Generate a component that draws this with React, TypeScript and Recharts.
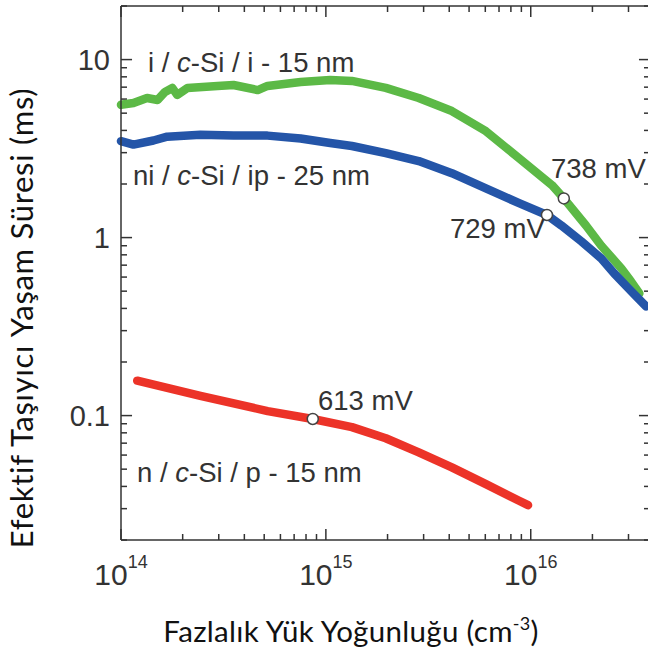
import React from "react";
import {
  ComposedChart,
  Line,
  Scatter,
  XAxis,
  YAxis,
  ReferenceLine,
} from "recharts";

// carrier density (cm-3) / effective lifetime (ms)
const green = [
  { n: 1.0e14, tau: 5.57 },
  { n: 1.15e14, tau: 5.7 },
  { n: 1.34e14, tau: 6.08 },
  { n: 1.51e14, tau: 5.93 },
  { n: 1.64e14, tau: 6.58 },
  { n: 1.78e14, tau: 6.93 },
  { n: 1.88e14, tau: 6.33 },
  { n: 2.11e14, tau: 6.93 },
  { n: 2.96e14, tau: 7.11 },
  { n: 3.54e14, tau: 7.2 },
  { n: 4.65e14, tau: 6.74 },
  { n: 5.19e14, tau: 7.11 },
  { n: 7.53e14, tau: 7.49 },
  { n: 1.05e15, tau: 7.69 },
  { n: 1.34e15, tau: 7.59 },
  { n: 1.96e15, tau: 6.93 },
  { n: 2.84e15, tau: 6.08 },
  { n: 4.12e15, tau: 5.14 },
  { n: 6.04e15, tau: 3.96 },
  { n: 8.77e15, tau: 2.79 },
  { n: 1.27e16, tau: 1.97 },
  { n: 1.45e16, tau: 1.66 },
  { n: 1.86e16, tau: 1.17 },
  { n: 2.21e16, tau: 0.9 },
  { n: 2.77e16, tau: 0.67 },
  { n: 3.09e16, tau: 0.566 },
  { n: 3.39e16, tau: 0.485 },
];

const blue = [
  { n: 1.0e14, tau: 3.48 },
  { n: 1.15e14, tau: 3.33 },
  { n: 1.44e14, tau: 3.51 },
  { n: 1.68e14, tau: 3.69 },
  { n: 2.44e14, tau: 3.78 },
  { n: 3.54e14, tau: 3.74 },
  { n: 5.19e14, tau: 3.74 },
  { n: 7.53e14, tau: 3.6 },
  { n: 1.05e15, tau: 3.4 },
  { n: 1.34e15, tau: 3.27 },
  { n: 1.96e15, tau: 2.98 },
  { n: 2.84e15, tau: 2.69 },
  { n: 4.12e15, tau: 2.3 },
  { n: 6.04e15, tau: 1.89 },
  { n: 8.77e15, tau: 1.56 },
  { n: 1.2e16, tau: 1.34 },
  { n: 1.41e16, tau: 1.17 },
  { n: 1.77e16, tau: 0.95 },
  { n: 2.21e16, tau: 0.764 },
  { n: 2.55e16, tau: 0.63 },
  { n: 2.99e16, tau: 0.52 },
  { n: 3.35e16, tau: 0.455 },
  { n: 3.66e16, tau: 0.41 },
];

const red = [
  { n: 1.2e14, tau: 0.157 },
  { n: 2.44e14, tau: 0.129 },
  { n: 5.2e14, tau: 0.106 },
  { n: 8.63e14, tau: 0.0957 },
  { n: 1.34e15, tau: 0.0861 },
  { n: 1.96e15, tau: 0.0746 },
  { n: 2.84e15, tau: 0.0622 },
  { n: 4.12e15, tau: 0.0512 },
  { n: 6.04e15, tau: 0.0412 },
  { n: 8.77e15, tau: 0.0332 },
  { n: 9.7e15, tau: 0.0314 },
];

// open circles (implied Voc)
const markers = [
  { n: 1.45e16, tau: 1.66 },
  { n: 1.2e16, tau: 1.34 },
  { n: 8.63e14, tau: 0.0957 },
];

const xTicks = [
  1e14, 2e14, 3e14, 4e14, 5e14, 6e14, 7e14, 8e14, 9e14,
  1e15, 2e15, 3e15, 4e15, 5e15, 6e15, 7e15, 8e15, 9e15,
  1e16, 2e16, 3e16,
];
const xMajor = [1e14, 1e15, 1e16];
const xExp = ["14", "15", "16"];

const yTicks = [
  0.02, 0.03, 0.04, 0.05, 0.06, 0.07, 0.08, 0.09,
  0.1, 0.2, 0.3, 0.4, 0.5, 0.6, 0.7, 0.8, 0.9,
  1, 2, 3, 4, 5, 6, 7, 8, 9,
  10, 20,
];
const yMajor = [0.1, 1, 10];
const yLabels = ["0.1", "1", "10"];

const X_DOMAIN = [1e14, 3.82e16];
const Y_DOMAIN = [0.02, 20];

// inward tick lengths as log-scale factors (~11px major, ~6px minor)
const X_MAJOR_F = 1.132;
const X_MINOR_F = 1.07;
const Y_MAJOR_F = 1.153;
const Y_MINOR_F = 1.081;

const AXIS = "#333";
const TXT = "#333";
const tickFont = "'Liberation Sans', Arial, sans-serif";
const titleFont = "Lato, 'Open Sans', sans-serif";

const BottomTick = (props: any) => {
  const { x, y, payload } = props;
  const i = xMajor.indexOf(payload.value);
  return (
    <g>
      {i >= 0 && (
        <text x={x} y={y + 45} textAnchor="middle" fill={TXT} fontFamily={tickFont} fontSize={30}>
          10
          <tspan dy={-17} fontSize={18}>{xExp[i]}</tspan>
        </text>
      )}
    </g>
  );
};

const LeftTick = (props: any) => {
  const { x, y, payload } = props;
  const i = yMajor.indexOf(payload.value);
  return (
    <g>
      {i >= 0 && (
        <text x={x - 11} y={y + 10} textAnchor="end" fill={TXT} fontFamily={tickFont} fontSize={29}>
          {yLabels[i]}
        </text>
      )}
    </g>
  );
};

const OpenCircle = ({ cx, cy }: any) => (
  <circle cx={cx} cy={cy} r={5.5} fill="#fff" stroke="#444" strokeWidth={1.5} />
);

const annStyle = { fontFamily: tickFont, fontSize: 27.5, fill: TXT };

export default function App() {
  return (
    <div style={{ position: "absolute", left: 0, top: 0, width: 648, height: 653, overflow: "hidden", background: "#fff" }}>
      <ComposedChart width={650} height={653} margin={{ top: 5, right: 0, bottom: 112, left: 120 }}>
        <XAxis
          dataKey="n"
          type="number"
          scale="log"
          domain={X_DOMAIN}
          ticks={xTicks}
          interval={0}
          height={1}
          tickSize={0}
          tickMargin={0}
          tickLine={false}
          axisLine={{ stroke: AXIS, strokeWidth: 1.5 }}
          tick={<BottomTick />}
        />
        <XAxis
          xAxisId="top"
          orientation="top"
          dataKey="n"
          type="number"
          scale="log"
          domain={X_DOMAIN}
          ticks={xTicks}
          interval={0}
          height={1}
          tickSize={0}
          tickLine={false}
          tick={false}
          axisLine={{ stroke: AXIS, strokeWidth: 1.5 }}
        />
        <YAxis
          dataKey="tau"
          type="number"
          scale="log"
          domain={Y_DOMAIN}
          ticks={yTicks}
          interval={0}
          width={1}
          tickSize={0}
          tickMargin={0}
          tickLine={false}
          axisLine={{ stroke: AXIS, strokeWidth: 1.5 }}
          tick={<LeftTick />}
        />
        {xTicks.map((v) => {
          const f = xMajor.includes(v) ? Y_MAJOR_F : Y_MINOR_F;
          return (
            <ReferenceLine
              key={"b" + v}
              segment={[{ x: v, y: Y_DOMAIN[0] }, { x: v, y: Y_DOMAIN[0] * f }]}
              stroke={AXIS}
              strokeWidth={1.5}
              ifOverflow="visible"
            />
          );
        })}
        {xTicks.map((v) => {
          const f = xMajor.includes(v) ? Y_MAJOR_F : Y_MINOR_F;
          return (
            <ReferenceLine
              key={"t" + v}
              segment={[{ x: v, y: Y_DOMAIN[1] / f }, { x: v, y: Y_DOMAIN[1] }]}
              stroke={AXIS}
              strokeWidth={1.5}
              ifOverflow="visible"
            />
          );
        })}
        {yTicks.map((v) => {
          const f = yMajor.includes(v) ? X_MAJOR_F : X_MINOR_F;
          return (
            <ReferenceLine
              key={"l" + v}
              segment={[{ x: X_DOMAIN[0], y: v }, { x: X_DOMAIN[0] * f, y: v }]}
              stroke={AXIS}
              strokeWidth={1.5}
              ifOverflow="visible"
            />
          );
        })}
        {yTicks.map((v) => {
          const f = yMajor.includes(v) ? X_MAJOR_F : X_MINOR_F;
          return (
            <ReferenceLine
              key={"r" + v}
              segment={[{ x: X_DOMAIN[1] / f, y: v }, { x: X_DOMAIN[1], y: v }]}
              stroke={AXIS}
              strokeWidth={1.5}
              ifOverflow="visible"
            />
          );
        })}
        <Line data={green} dataKey="tau" stroke="#5cb946" strokeWidth={8.5} strokeLinecap="round" strokeLinejoin="round" dot={false} isAnimationActive={false} />
        <Line data={blue} dataKey="tau" stroke="#2455a8" strokeWidth={8.5} strokeLinecap="round" strokeLinejoin="round" dot={false} isAnimationActive={false} />
        <Line data={red} dataKey="tau" stroke="#ec3328" strokeWidth={8.5} strokeLinecap="round" strokeLinejoin="round" dot={false} isAnimationActive={false} />
        <Scatter data={markers} dataKey="tau" shape={<OpenCircle />} isAnimationActive={false} />
      </ComposedChart>
      <svg width={648} height={653} style={{ position: "absolute", left: 0, top: 0, pointerEvents: "none" }}>
        <text x={148} y={72} {...annStyle}>
          i / <tspan fontStyle="italic">c</tspan>-Si / i - 15 nm
        </text>
        <text x={133} y={185} {...annStyle}>
          ni / <tspan fontStyle="italic">c</tspan>-Si / ip - 25 nm
        </text>
        <text x={137} y={482} {...annStyle}>
          n / <tspan fontStyle="italic">c</tspan>-Si / p - 15 nm
        </text>
        <text x={551} y={178} {...annStyle}>738 mV</text>
        <text x={450} y={238} {...annStyle}>729 mV</text>
        <text x={318} y={410} {...annStyle}>613 mV</text>
        <text
          transform="translate(33,318) rotate(-90)"
          textAnchor="middle"
          fontFamily={titleFont}
          fontSize={31}
          letterSpacing={0.7}
          fill="#111"
        >
          Efektif Taşıyıcı Yaşam Süresi (ms)
        </text>
        <text x={351} y={642} textAnchor="middle" fontFamily={titleFont} fontSize={29.5} letterSpacing={0.3} fill="#111">
          Fazlalık Yük Yoğunluğu (cm
          <tspan dy={-12} fontSize={18}>-3</tspan>
          <tspan dy={12}>)</tspan>
        </text>
      </svg>
    </div>
  );
}
